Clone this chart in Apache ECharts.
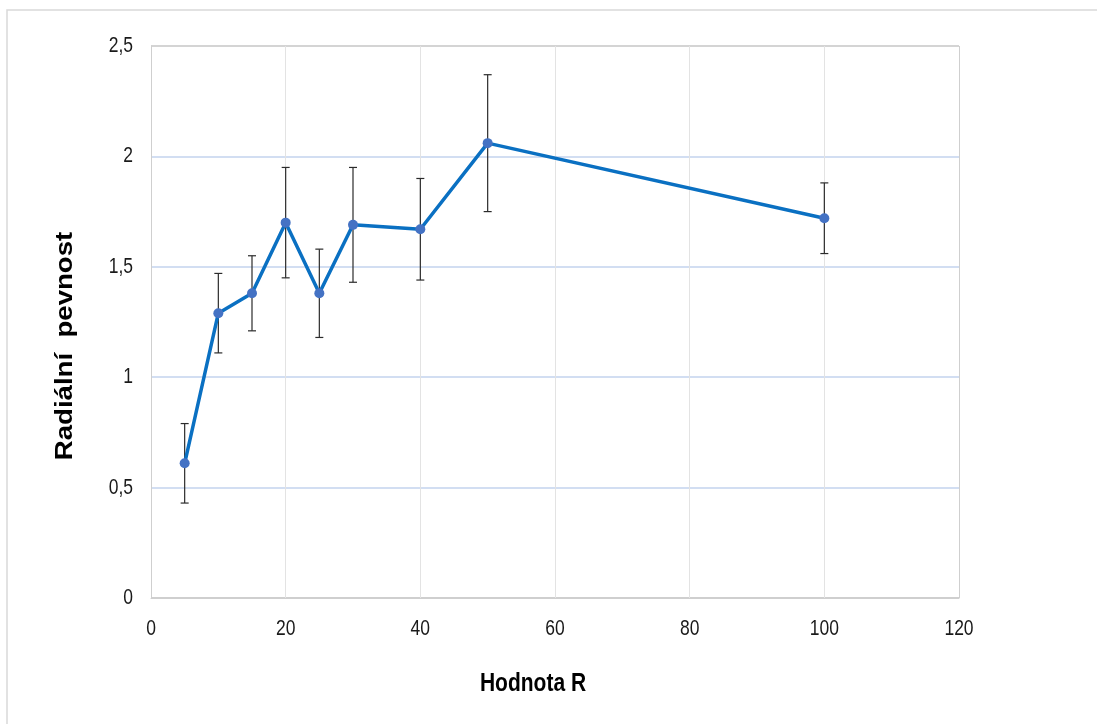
<!DOCTYPE html>
<html>
<head>
<meta charset="utf-8">
<script src="https://cdn.jsdelivr.net/npm/echarts@6/dist/echarts.min.js"></script>
<style>
  html, body { margin: 0; padding: 0; background: #ffffff; }
  #chart { width: 1097px; height: 724px; }
</style>
</head>
<body>
<div id="chart"></div>
<script>
// Hodnota R on the x axis, radial strength and its +/- spread
const rValues = [5, 10, 15, 20, 25, 30, 40, 50, 100];
const strength = [0.61, 1.29, 1.38, 1.70, 1.38, 1.69, 1.67, 2.06, 1.72];
const spread = [0.18, 0.18, 0.17, 0.25, 0.20, 0.26, 0.23, 0.31, 0.16];
const xTicks = [0, 20, 40, 60, 80, 100, 120];
const yTicks = [0, 0.5, 1, 1.5, 2, 2.5];

const baseFont = '"Liberation Sans", Arial, sans-serif';
const tickFont = '17.5px ' + baseFont;
const comma = v => String(v).replace('.', ',');

const chart = echarts.init(document.getElementById('chart'), null, { renderer: 'canvas' });

const linePoints = rValues.map((x, i) => [x, strength[i]]);
const barData = rValues.map((x, i) => [x, strength[i] - spread[i], strength[i] + spread[i]]);

// tall, narrow tick labels: real text stretched vertically
function tickText(px, py, value, align) {
  return {
    type: 'text', x: px, y: py, scaleY: 1.25,
    style: { text: comma(value), font: tickFont, fill: '#1a1a1a', align: align, verticalAlign: 'middle' }
  };
}

chart.setOption({
  animation: false,
  backgroundColor: '#ffffff',
  grid: { left: 151, right: 138, top: 46, bottom: 126, show: false },
  xAxis: {
    type: 'value',
    min: xTicks[0], max: xTicks[xTicks.length - 1], interval: 20,
    axisLine: { show: true, lineStyle: { color: '#cfcfcf', width: 1 } },
    axisTick: { show: false },
    axisLabel: { show: false },
    splitLine: { show: true, lineStyle: { color: ['#cfcfcf', '#e3e3e3', '#e3e3e3', '#e3e3e3', '#e3e3e3', '#e3e3e3', '#cfcfcf'], width: 1 } }
  },
  yAxis: {
    type: 'value',
    min: yTicks[0], max: yTicks[yTicks.length - 1], interval: 0.5,
    axisLine: { show: true, lineStyle: { color: '#cfcfcf', width: 1 } },
    axisTick: { show: false },
    axisLabel: { show: false },
    splitLine: { show: true, lineStyle: { color: ['#cfcfcf', '#d2def2', '#d2def2', '#d2def2', '#d2def2', '#d4d4d4'], width: 2 } }
  },
  graphic: [
    { type: 'rect', silent: true, shape: { x: 7, y: 10, width: 1200, height: 800 },
      style: { fill: 'none', stroke: '#d9d9d9', lineWidth: 1.5 } },
    { type: 'text', silent: true, x: 533, y: 684, scaleY: 1.2,
      style: { text: 'Hodnota R', font: 'bold 21px ' + baseFont, fill: '#000000', align: 'center', verticalAlign: 'middle' } },
    { type: 'text', silent: true, x: 66, y: 346, rotation: Math.PI / 2, scaleX: 1.2,
      style: { text: 'Radiální  pevnost', font: 'bold 23px ' + baseFont, fill: '#000000', align: 'center', verticalAlign: 'middle' } }
  ],
  series: [
    {
      // x tick labels
      type: 'custom', clip: false, silent: true,
      data: xTicks.map(v => [v, yTicks[0]]),
      renderItem: function (params, api) {
        const p = api.coord([api.value(0), api.value(1)]);
        return tickText(p[0], p[1] + 31, api.value(0), 'center');
      }
    },
    {
      // y tick labels
      type: 'custom', clip: false, silent: true,
      data: yTicks.map(v => [xTicks[0], v]),
      renderItem: function (params, api) {
        const p = api.coord([api.value(0), api.value(1)]);
        return tickText(p[0] - 18, p[1], api.value(1), 'right');
      }
    },
    {
      // error bars
      type: 'custom',
      z: 3,
      data: barData,
      renderItem: function (params, api) {
        const x = api.value(0);
        const lo = api.coord([x, api.value(1)]);
        const hi = api.coord([x, api.value(2)]);
        const cap = 4;
        const style = { stroke: '#2b2b2b', lineWidth: 1.2 };
        return {
          type: 'group',
          children: [
            { type: 'line', shape: { x1: lo[0], y1: lo[1], x2: hi[0], y2: hi[1] }, style },
            { type: 'line', shape: { x1: hi[0] - cap, y1: hi[1], x2: hi[0] + cap, y2: hi[1] }, style },
            { type: 'line', shape: { x1: lo[0] - cap, y1: lo[1], x2: lo[0] + cap, y2: lo[1] }, style }
          ]
        };
      }
    },
    {
      type: 'line',
      z: 4,
      data: linePoints,
      symbol: 'circle',
      symbolSize: 10,
      lineStyle: { color: '#0a70c2', width: 3.5 },
      itemStyle: { color: '#4472c4', borderWidth: 0 }
    }
  ]
});
</script>
</body>
</html>
